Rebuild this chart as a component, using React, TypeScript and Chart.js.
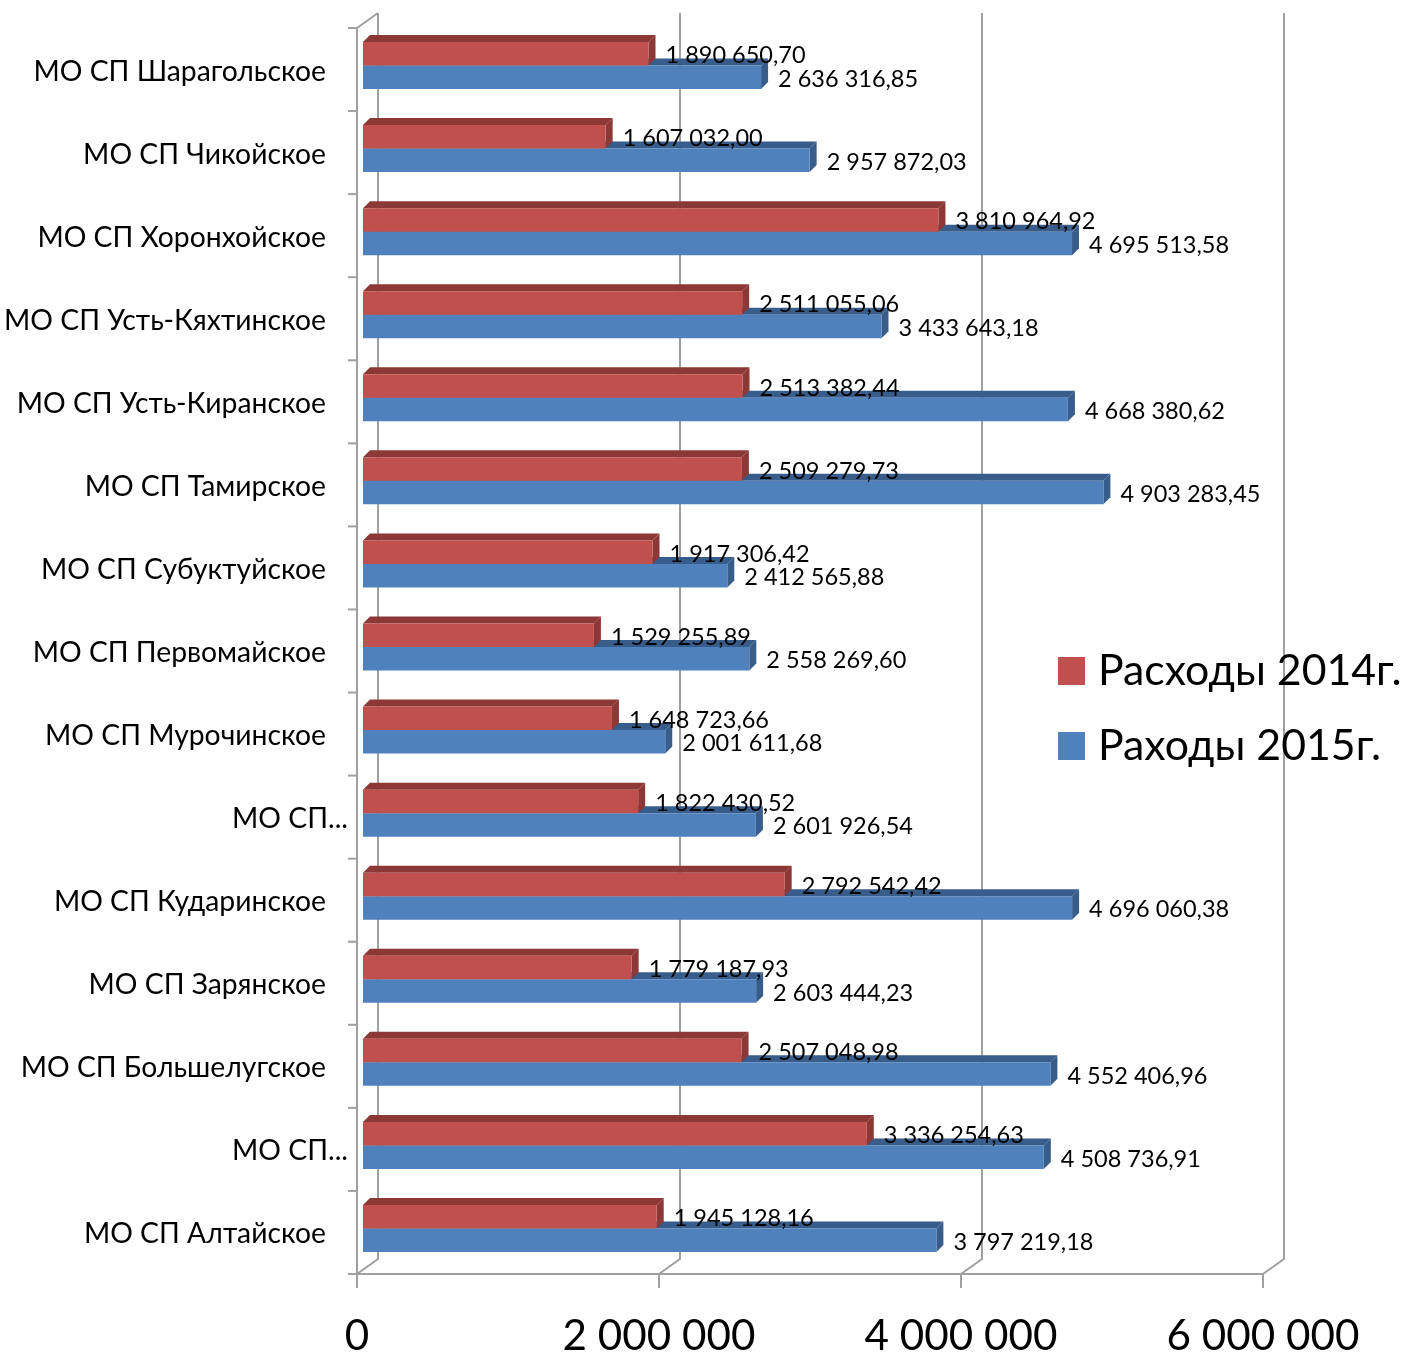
import React, { useEffect, useRef } from "react";
import { Chart, registerables } from "chart.js";

Chart.register(...registerables);

const categories = [
  "МО СП Шарагольское",
  "МО СП Чикойское",
  "МО СП Хоронхойское",
  "МО СП Усть-Кяхтинское",
  "МО СП Усть-Киранское",
  "МО СП Тамирское",
  "МО СП Субуктуйское",
  "МО СП Первомайское",
  "МО СП Мурочинское",
  "МО СП...",
  "МО СП Кударинское",
  "МО СП Зарянское",
  "МО СП Большелугское",
  "МО СП...",
  "МО СП Алтайское",
];

const expenses2014 = [
  1890650.7, 1607032.0, 3810964.92, 2511055.06, 2513382.44, 2509279.73,
  1917306.42, 1529255.89, 1648723.66, 1822430.52, 2792542.42, 1779187.93,
  2507048.98, 3336254.63, 1945128.16,
];

const expenses2015 = [
  2636316.85, 2957872.03, 4695513.58, 3433643.18, 4668380.62, 4903283.45,
  2412565.88, 2558269.6, 2001611.68, 2601926.54, 4696060.38, 2603444.23,
  4552406.96, 4508736.91, 3797219.18,
];

const xTickValues = [0, 2000000, 4000000, 6000000];
const xTickLabels = ["0", "2 000 000", "4 000 000", "6 000 000"];
const seriesNames = ["Расходы 2014г.", "Раходы 2015г."];

const FONT = "Lato, 'Open Sans', sans-serif";

function fmt(v: number): string {
  const [ip, dp] = v.toFixed(2).split(".");
  return ip.replace(/\B(?=(\d{3})+(?!\d))/g, " ") + "," + dp;
}

const threeD = {
  id: "threeD",
  beforeDatasetsDraw(chart: any) {
    const ctx = chart.ctx;
    const ca = chart.chartArea;
    const xs = chart.scales.x;
    const ys = chart.scales.y;
    const fdx = -6, fdy = 4; // front plane offset
    const bdx = 15, bdy = -11; // back plane offset
    const frontTop = ca.top + fdy;
    const frontBot = ca.bottom + fdy;
    const backTop = ca.top + bdy;
    const backBot = ca.bottom + bdy;
    ctx.save();
    ctx.strokeStyle = "#a0a0a0";
    ctx.lineWidth = 2;
    ctx.lineCap = "butt";
    xTickValues.forEach((v) => {
      const px = xs.getPixelForValue(v);
      ctx.beginPath();
      ctx.moveTo(px + bdx, backTop);
      ctx.lineTo(px + bdx, backBot);
      ctx.lineTo(px + fdx, frontBot);
      ctx.lineTo(px + fdx, frontBot + 14);
      ctx.stroke();
    });
    const x0 = xs.getPixelForValue(xTickValues[0]);
    const xN = xs.getPixelForValue(xTickValues[xTickValues.length - 1]);
    ctx.beginPath();
    ctx.moveTo(x0 + fdx, frontBot);
    ctx.lineTo(xN + fdx, frontBot);
    ctx.stroke();
    ctx.beginPath();
    ctx.moveTo(x0 + bdx, backTop);
    ctx.lineTo(x0 + fdx, frontTop);
    ctx.lineTo(x0 + fdx, frontBot);
    ctx.stroke();
    const n = categories.length;
    const band = (ca.bottom - ca.top) / n;
    for (let k = 0; k <= n; k++) {
      const y = ys.getPixelForValue(0) - band / 2 + k * band + fdy;
      ctx.beginPath();
      ctx.moveTo(x0 + fdx - 9, y);
      ctx.lineTo(x0 + fdx, y);
      ctx.stroke();
    }
    const dd = 7;
    const sideCols = ["#8c3836", "#385d8a"];
    [1, 0].forEach((di) => {
      const meta = chart.getDatasetMeta(di);
      meta.data.forEach((el: any) => {
        const p = el.getProps(["x", "y", "base", "height"], true);
        const top = p.y - p.height / 2;
        const bot = p.y + p.height / 2;
        ctx.fillStyle = sideCols[di];
        ctx.beginPath();
        ctx.moveTo(p.base, top);
        ctx.lineTo(p.x, top);
        ctx.lineTo(p.x + dd, top - dd);
        ctx.lineTo(p.base + dd, top - dd);
        ctx.closePath();
        ctx.fill();
        ctx.beginPath();
        ctx.moveTo(p.x, top);
        ctx.lineTo(p.x + dd, top - dd);
        ctx.lineTo(p.x + dd, bot - dd);
        ctx.lineTo(p.x, bot);
        ctx.closePath();
        ctx.fill();
      });
    });
    ctx.restore();
  },
  afterDatasetsDraw(chart: any) {
    const ctx = chart.ctx;
    const ca = chart.chartArea;
    const xs = chart.scales.x;
    const ys = chart.scales.y;
    ctx.save();
    ctx.fillStyle = "#000";
    ctx.font = `23.5px ${FONT}`;
    ctx.textAlign = "left";
    ctx.textBaseline = "alphabetic";
    chart.data.datasets.forEach((ds: any, di: number) => {
      const meta = chart.getDatasetMeta(di);
      meta.data.forEach((el: any, i: number) => {
        const p = el.getProps(["x", "y"], true);
        ctx.fillText(fmt(ds.data[i]), p.x + 17, p.y + 9.5);
      });
    });
    ctx.font = `28.3px ${FONT}`;
    ctx.textAlign = "right";
    categories.forEach((c, i) => {
      const y = ys.getPixelForValue(i) + 15;
      const x = c.endsWith("...") ? 348 : 326;
      ctx.fillText(c, x, y);
    });
    ctx.font = `42.2px ${FONT}`;
    ctx.textAlign = "center";
    xTickValues.forEach((v, i) => {
      ctx.fillText(xTickLabels[i], xs.getPixelForValue(v) - 6, ca.bottom + 80);
    });
    ctx.font = `42.8px ${FONT}`;
    ctx.textAlign = "left";
    chart.data.datasets.forEach((ds: any, di: number) => {
      const yb = 685 + di * 75;
      ctx.fillStyle = ds.backgroundColor;
      ctx.fillRect(1058, yb - 28, 27, 28);
      ctx.fillStyle = "#000";
      ctx.fillText(seriesNames[di], 1098, yb);
    });
    ctx.restore();
  },
};

export default function App() {
  const ref = useRef<HTMLCanvasElement | null>(null);
  useEffect(() => {
    document.body.style.margin = "0";
    const canvas = ref.current!;
    const chart = new Chart(canvas, {
      type: "bar",
      data: {
        labels: categories,
        datasets: [
          {
            label: seriesNames[0],
            data: expenses2014,
            backgroundColor: "#c0504d",
            borderWidth: 0,
            categoryPercentage: 0.566,
            barPercentage: 1,
          },
          {
            label: seriesNames[1],
            data: expenses2015,
            backgroundColor: "#4f81bd",
            borderWidth: 0,
            categoryPercentage: 0.566,
            barPercentage: 1,
          },
        ],
      },
      options: {
        indexAxis: "y",
        animation: false,
        responsive: false,
        devicePixelRatio: 1,
        layout: { padding: { left: 363, right: 134, top: 24, bottom: 83 } },
        plugins: { legend: { display: false }, tooltip: { enabled: false } },
        scales: {
          x: { display: false, min: 0, max: 6000000 },
          y: { display: false },
        },
      },
      plugins: [threeD],
    });
    return () => chart.destroy();
  }, []);
  return (
    <div style={{ width: 1403, height: 1353, background: "#fff" }}>
      <canvas ref={ref} width={1403} height={1353} style={{ display: "block" }} />
    </div>
  );
}
